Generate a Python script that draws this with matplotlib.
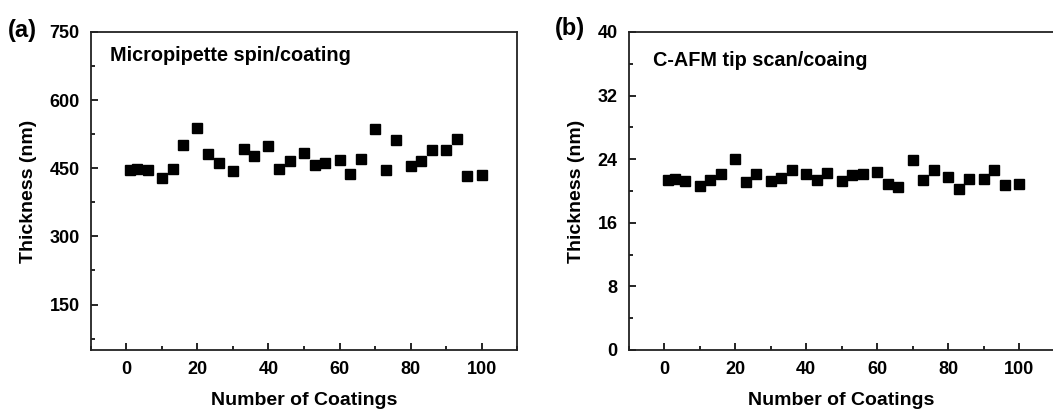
import numpy as np
import matplotlib
matplotlib.use("Agg")
import matplotlib.pyplot as plt
from matplotlib.ticker import MultipleLocator

plt.rcParams['font.family'] = ['Liberation Sans', 'DejaVu Sans']
plt.rcParams['font.weight'] = 'bold'

coatings = [1, 3, 6, 10, 13, 16, 20, 23, 26, 30, 33, 36, 40, 43, 46, 50,
            53, 56, 60, 63, 66, 70, 73, 76, 80, 83, 86, 90, 93, 96, 100]

# (a) micropipette spin coating, thickness in nm
thick_pipette = [446, 448, 446, 429, 448, 501, 539, 481, 462, 445, 492, 476,
                 500, 448, 465, 483, 457, 461, 468, 437, 470, 537, 446, 513,
                 456, 465, 490, 491, 514, 434, 436]

# (b) C-AFM tip scan coating, thickness in nm
thick_afm = [21.4, 21.5, 21.3, 20.6, 21.4, 22.1, 24.0, 21.1, 22.1, 21.3, 21.6,
             22.7, 22.1, 21.4, 22.3, 21.2, 22.0, 22.1, 22.4, 20.9, 20.5, 23.9,
             21.4, 22.7, 21.8, 20.2, 21.5, 21.5, 22.7, 20.8, 20.9]

fig = plt.figure(figsize=(10.53, 4.09), dpi=100)
ax_a = fig.add_axes([0.0864, 0.1443, 0.4046, 0.7775])
ax_b = fig.add_axes([0.5969, 0.1443, 0.4046, 0.7775])


def style(ax, ylim, ymajor, yminor, ylabel):
    ax.set_xlim(-10, 110)
    ax.set_ylim(*ylim)
    ax.xaxis.set_major_locator(MultipleLocator(20))
    ax.xaxis.set_minor_locator(MultipleLocator(10))
    ax.yaxis.set_major_locator(MultipleLocator(ymajor))
    ax.yaxis.set_minor_locator(MultipleLocator(yminor))
    ax.tick_params(which='both', direction='in', top=False, right=False,
                   labelsize=13, width=1.2)
    ax.tick_params(which='major', length=5, pad=8)
    ax.tick_params(which='minor', length=3)
    for sp in ax.spines.values():
        sp.set_linewidth(1.3)
        sp.set_color('#222222')
    ax.set_xlabel('Number of Coatings', fontsize=14, fontweight='bold',
                  labelpad=10)
    ax.set_ylabel(ylabel, fontsize=14, fontweight='bold', labelpad=9)


ax_a.plot(coatings, thick_pipette, 's', color='black', markersize=7)
style(ax_a, (50, 750), 150, 75, 'Thickness (nm)')
ax_a.text(0.045, 0.925, 'Micropipette spin/coating', transform=ax_a.transAxes,
          fontsize=14.3, fontweight='bold', va='center')

ax_b.plot(coatings, thick_afm, 's', color='black', markersize=7)
style(ax_b, (0, 40), 8, 4, 'Thickness (nm)')
ax_b.text(0.058, 0.91, 'C-AFM tip scan/coaing', transform=ax_b.transAxes,
          fontsize=14.3, fontweight='bold', va='center')

fig.text(8 / 1053, 1 - 30 / 409, '(a)', fontsize=17, fontweight='bold',
         va='center', ha='left')
fig.text(555 / 1053, 1 - 29 / 409, '(b)', fontsize=17, fontweight='bold',
         va='center', ha='left')

fig.savefig('out.png', dpi=100)
